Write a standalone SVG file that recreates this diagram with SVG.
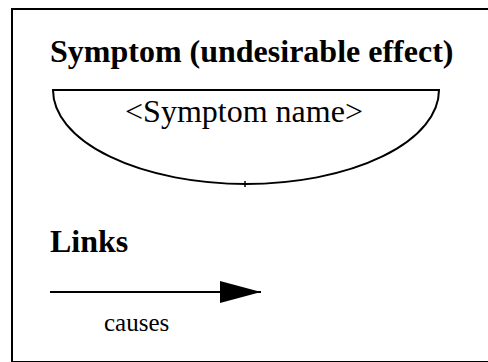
<svg xmlns="http://www.w3.org/2000/svg" width="488" height="362" viewBox="0 0 488 362">
  <style>
    .frame { fill: #ffffff; stroke: #000000; stroke-width: 2; }
    .shape { fill: #ffffff; stroke: #000000; stroke-width: 2; }
    .heading { font-family: "Liberation Serif", "Times New Roman", serif; font-weight: bold; font-size: 32px; fill: #000000; }
    .label { font-family: "Liberation Serif", "Times New Roman", serif; font-size: 32px; fill: #000000; }
    .small { font-family: "Liberation Serif", "Times New Roman", serif; font-size: 25px; fill: #000000; }
    .link { stroke: #000000; stroke-width: 2.2; fill: none; }
  </style>
  <defs>
    <marker id="arrow" markerUnits="userSpaceOnUse" markerWidth="42" markerHeight="24" refX="41" refY="11" orient="auto">
      <path d="M0,0 L41,11 L0,22 Z" fill="#000000"/>
    </marker>
  </defs>
  <rect width="488" height="362" fill="#ffffff"/>
  <rect class="frame" x="12" y="9" width="490" height="353"/>
  <text class="heading" x="50" y="62">Symptom (undesirable effect)</text>
  <g id="symptom">
    <path class="shape" d="M53,90 L439,90 A193,94 0 0 1 53,90 Z"/>
    <line x1="245" y1="181" x2="245" y2="187" stroke="#000000" stroke-width="1.5"/>
    <text class="label" x="244" y="122" text-anchor="middle">&lt;Symptom name&gt;</text>
  </g>
  <text class="heading" x="50" y="252">Links</text>
  <g id="connectors">
    <line class="link" x1="50" y1="292" x2="261" y2="292" marker-end="url(#arrow)"/>
    <text class="small" x="104" y="331">causes</text>
  </g>
</svg>
